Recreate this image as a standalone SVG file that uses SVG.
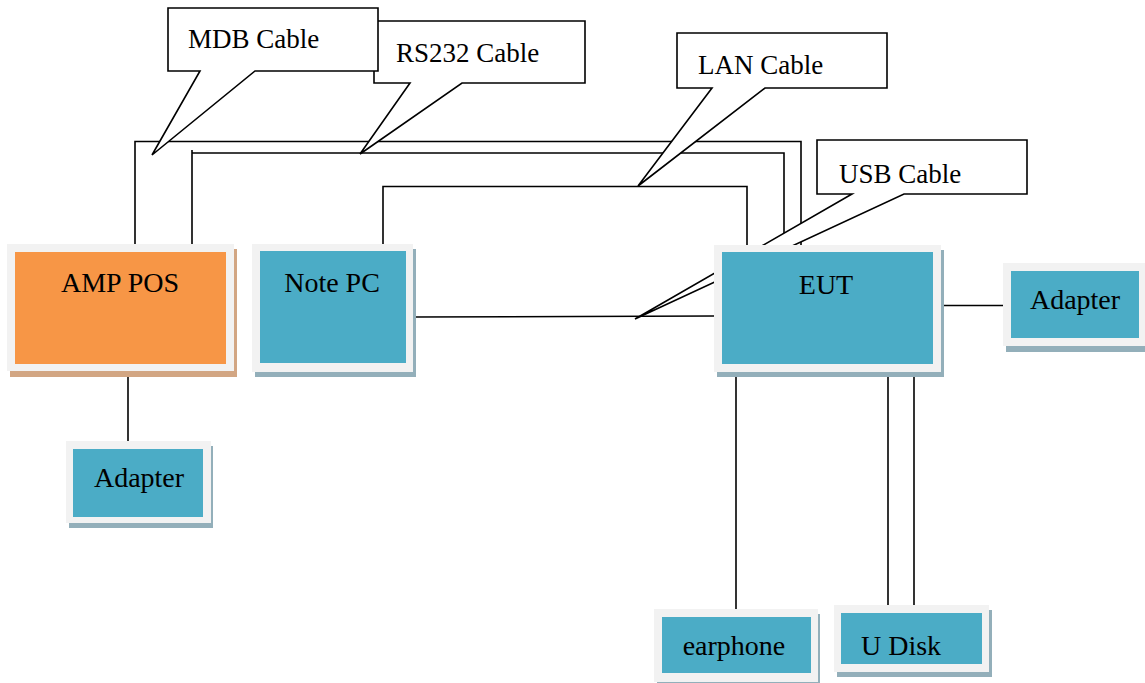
<svg xmlns="http://www.w3.org/2000/svg" width="1145" height="683" viewBox="0 0 1145 683">
<style>
.frame{fill:#F2F2F2}
.shT{fill:#93AFBA}
.shO{fill:#D2A683}
.teal{fill:#4BACC6}
.orange{fill:#F79646}
.nt{font-family:'Liberation Serif','Times New Roman',serif;font-size:28px;fill:#000;text-anchor:middle}
.lt{font-family:'Liberation Serif','Times New Roman',serif;font-size:27px;fill:#000}
.wire{fill:none;stroke:#000;stroke-width:1.6}
.call{fill:#fff;stroke:#000;stroke-width:1.6;stroke-linejoin:miter}
</style>
<rect width="1145" height="683" fill="#fff"/>
<g id="connectors">
<polyline class="wire" points="135,244 135,141.5 801,141.5 801,245"/>
<polyline class="wire" points="192,244 192,150 192,153 784,153 784,245"/>
<polyline class="wire" points="383,244 383,186.5 747,186.5 747,245"/>
<line class="wire" x1="413" y1="317" x2="714" y2="316"/>
<line class="wire" x1="941" y1="305.5" x2="1003" y2="305.5"/>
<line class="wire" x1="128" y1="371" x2="128" y2="441"/>
<line class="wire" x1="736" y1="372" x2="736" y2="609"/>
<line class="wire" x1="888" y1="372" x2="888" y2="605"/>
<line class="wire" x1="914" y1="372" x2="914" y2="605"/>
</g>
<g id="callout-rs232">
<polygon class="call" points="374,21 585,21 585,83 462,83 360,154 410,83 374,83"/>
<text class="lt" x="396" y="62">RS232 Cable</text>
</g>
<g id="callout-mdb">
<polygon class="call" points="168,8 378,8 378,71 255,71 152,155 200,71 168,71"/>
<text class="lt" x="188" y="48">MDB Cable</text>
</g>
<g id="callout-lan">
<polygon class="call" points="677,33 887,33 887,88 765,88 638,186 712,88 677,88"/>
<text class="lt" x="698" y="74">LAN Cable</text>
</g>
<g id="callout-usb">
<polygon class="call" points="817,140 1027,140 1027,194 904,194 635,319 852,194 817,194"/>
<text class="lt" x="839" y="183">USB Cable</text>
</g>
<g id="amp-pos">
<rect class="shO" x="10" y="249" width="227" height="128"/>
<rect class="frame" x="7" y="244" width="227" height="127"/>
<rect class="orange" x="15" y="252" width="211" height="112"/>
<text class="nt" x="120" y="292">AMP POS</text>
</g>
<g id="note-pc">
<rect class="shT" x="255" y="249" width="161" height="128"/>
<rect class="frame" x="252" y="244" width="161" height="128"/>
<rect class="teal" x="260" y="251" width="146" height="112"/>
<text class="nt" x="332" y="292">Note PC</text>
</g>
<g id="eut">
<rect class="shT" x="717" y="250" width="227" height="127"/>
<rect class="frame" x="714" y="245" width="227" height="127"/>
<rect class="teal" x="722" y="252" width="211" height="112"/>
<text class="nt" x="826" y="294">EUT</text>
</g>
<g id="adapter-left">
<rect class="shT" x="69" y="446" width="144" height="82"/>
<rect class="frame" x="66" y="441" width="145" height="82"/>
<rect class="teal" x="73" y="449" width="130" height="68"/>
<text class="nt" x="139" y="487">Adapter</text>
</g>
<g id="adapter-right">
<rect class="shT" x="1006" y="268" width="139" height="84"/>
<rect class="frame" x="1003" y="263" width="142" height="83"/>
<rect class="teal" x="1011" y="271" width="128" height="67"/>
<text class="nt" x="1075" y="309">Adapter</text>
</g>
<g id="earphone">
<rect class="shT" x="657" y="614" width="163" height="69"/>
<rect class="frame" x="654" y="609" width="164" height="73"/>
<rect class="teal" x="662" y="617" width="149" height="56"/>
<text class="nt" x="734" y="655">earphone</text>
</g>
<g id="u-disk">
<rect class="shT" x="837" y="610" width="155" height="67"/>
<rect class="frame" x="834" y="605" width="155" height="67"/>
<rect class="teal" x="841" y="613" width="141" height="51"/>
<text class="nt" x="901" y="655">U Disk</text>
</g>
</svg>
